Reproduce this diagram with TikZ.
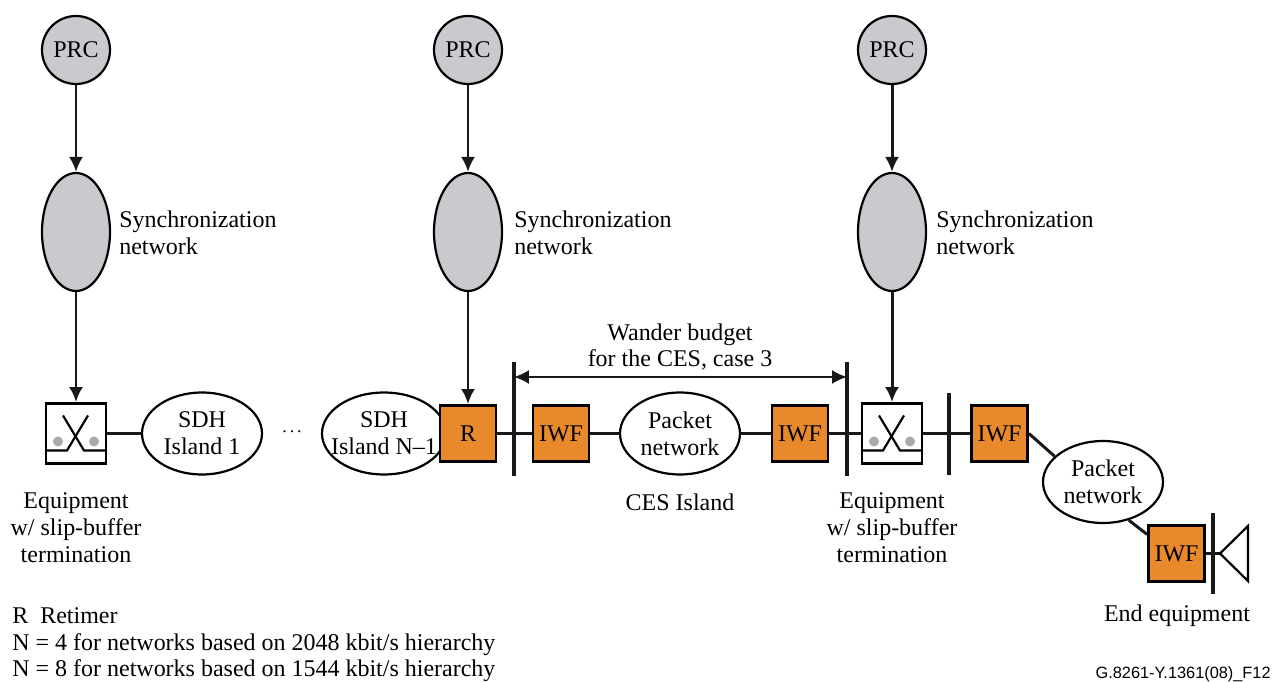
\documentclass[tikz,border=0pt]{standalone}
\usepackage{fontspec}
\setmainfont{Liberation Serif}
\usepackage{tikz}
\usetikzlibrary{arrows.meta,shapes.geometric}
\definecolor{iwfOrange}{RGB}{232,138,44}
\definecolor{syncGray}{RGB}{200,202,205}
\definecolor{dotGray}{RGB}{170,170,170}

\begin{document}
\begin{tikzpicture}[x=0.02cm, y=-0.02cm,
        every node/.style={font=\fontsize{13.65}{15.3}\selectfont, align=center, inner sep=0},
        line/.style={line width=1.7pt, black!90},
        arrow/.style={line, -{Latex[length=8.5pt, width=8pt]}},
        bar/.style={line width=2pt, black!90},
        prc/.style={draw, line width=1.25pt, circle, fill=syncGray, minimum size=1.36cm},
        syncnet/.style={draw, line width=1.25pt, ellipse, fill=syncGray, minimum width=1.36cm, minimum height=2.36cm},
        island/.style={draw, line width=1.25pt, ellipse, fill=white, inner xsep=-25pt, minimum width=2.4cm, minimum height=1.64cm},
        orangebox/.style={draw, line width=1.6pt, fill=iwfOrange, minimum size=1.12cm},
        slipbox/.style={draw, line width=1.6pt, fill=white, minimum size=1.2cm}]
    \useasboundingbox (0, 0) rectangle (1279, 682);
    %columns with the clock chain
    \foreach \n/\x/\tx in {a/76/119, b/468/514, c/892/936} {
        \node[prc] (prc\n) at (\x, 50) {PRC};
        \node[syncnet] (sync\n) at (\x, 232) {};
        \node[anchor=west, align=left] (synclabel\n) at (\tx, 233) {Synchronization\\network};
    }
    \node[slipbox] (slipa) at (76, 433.5) {};
    \node[slipbox] (slipb) at (892, 433.5) {};
    \node[island] (sdha) at (202, 433.5) {SDH\\Island 1};
    \node[font=\fontsize{10}{12}\selectfont] (dots) at (292, 432) {.\,.\,.};
    \node[island, minimum width=2.48cm] (sdhb) at (384, 433.5) {SDH\\Island N--1};
    \node[orangebox] (retimer) at (468, 433.5) {R};
    \node[orangebox] (iwfa) at (561, 433.5) {IWF};
    \node[island] (pkta) at (680, 433.5) {Packet\\network};
    \node[orangebox] (iwfb) at (800, 433.5) {IWF};
    \node[orangebox] (iwfc) at (999.5, 433.5) {IWF};
    \node[island] (pktb) at (1103, 482) {Packet\\network};
    \node[orangebox] (iwfd) at (1176.5, 553.5) {IWF};
    %slip buffer symbol
    \foreach \n in {slipa, slipb} {
        \begin{scope}[shift={(\n)}]
            \fill[dotGray] (-18, 8) circle (5);
            \fill[dotGray] (18, 8) circle (5);
            \draw[line width=1.25pt] (-13, -18) -- (8, 17) -- (30, 17);
            \draw[line width=1.25pt] (12, -18) -- (-9, 17) -- (-30, 17);
        \end{scope}
    }
    %free ends
    \coordinate (bartopa) at (514, 362);
    \coordinate (barbota) at (514, 476);
    \coordinate (bartopb) at (847, 362);
    \coordinate (barbotb) at (847, 476);
    \coordinate (bartopc) at (949, 393);
    \coordinate (barbotc) at (949, 475);
    \coordinate (bartopd) at (1213, 513);
    \coordinate (barbotd) at (1213, 594);
    \coordinate (budgetl) at (514, 377);
    \coordinate (budgetr) at (847, 377);
    \coordinate (hornapex) at (1220, 553.5);
    \coordinate (horntop) at (1248, 526);
    \coordinate (hornbot) at (1248, 581);
    %connectors
    \foreach \n in {a, b, c}
        \draw[arrow] (prc\n) -- (sync\n);
    \draw[arrow] (synca) -- (slipa);
    \draw[arrow] (syncb) -- (retimer);
    \draw[arrow] (syncc) -- (slipb);
    \draw[line] (slipa) -- (sdha);
    \draw[line] (retimer) -- (iwfa);
    \draw[line] (iwfa) -- (pkta);
    \draw[line] (pkta) -- (iwfb);
    \draw[line] (iwfb) -- (slipb);
    \draw[line] (slipb) -- (iwfc);
    \draw[line] (iwfc.east) -- (pktb.152);
    \draw[line] (pktb.-56) -- (iwfd.147);
    \draw[line] (iwfd.east) -- (hornapex);
    \draw[line width=1.25pt] (hornapex) -- (horntop) -- (hornbot) -- cycle;
    \foreach \n in {a, b, c, d}
        \draw[bar] (bartop\n) -- (barbot\n);
    \draw[line width=1.25pt, black!90, {Latex[length=8.5pt, width=8pt]}-{Latex[length=8.5pt, width=8pt]}] (budgetl) -- (budgetr);
    %labels
    \node (budgetlabel) at (680, 347) {Wander budget\\for the CES, case 3};
    \node (ceslabel) at (680, 502) {CES Island};
    \node (equiplabela) at (76, 528) {Equipment\\w/ slip-buffer\\termination};
    \node (equiplabelb) at (892, 528) {Equipment\\w/ slip-buffer\\termination};
    \node (endlabel) at (1177, 615.5) {End equipment};
    \node[anchor=north west, align=left] (legend) at (12, 607) {R\hspace{0.5em}Retimer\\N = 4 for networks based on 2048 kbit/s hierarchy\\N = 8 for networks based on 1544 kbit/s hierarchy};
    \node[anchor=east, font=\fontsize{9.3}{11}\selectfont\fontspec{Liberation Sans}] (figref) at (1271, 674) {G.8261-Y.1361(08)\_F12};
\end{tikzpicture}
\end{document}
